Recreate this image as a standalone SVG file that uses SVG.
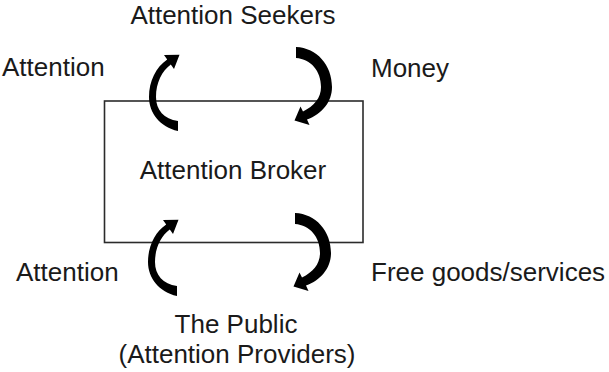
<svg xmlns="http://www.w3.org/2000/svg" xmlns:xlink="http://www.w3.org/1999/xlink" width="609" height="372" viewBox="0 0 609 372">
  <style>
    .lbl { font-family: "Liberation Sans", Arial, Helvetica, sans-serif; font-size: 26px; fill: #1a1a1a; }
    .mid { text-anchor: middle; }
    .box { fill: none; stroke: #2b2b2b; stroke-width: 1.6; }
    .arw { fill: #000; }
  </style>
  <defs>
    <!-- upward curved arrow, bulging to the left -->
    <path id="arrowUp" class="arw" d="M 178,131 C 160,127 149,113 149,97 C 149,81 156,67 167.2,59.4 L 164,55 L 179.5,54.8 L 174,69 L 170.8,64.6 C 162,71 156,83 156,97 C 156,110 164,119 178,121 Z"/>
    <!-- downward curved arrow, bulging to the right -->
    <path id="arrowDown" class="arw" d="M 296,47 C 317,48 332,65 332,87 C 332,102 322,114 307,119.6 L 309.5,125 L 294.5,120.5 L 300.5,106.5 L 303,111.5 C 314,106 321,98 321,87 C 321,71 311,59 296,58 Z"/>
  </defs>

  <g id="seekers">
    <text class="lbl mid" x="233" y="24">Attention Seekers</text>
  </g>

  <g id="broker">
    <rect class="box" x="104.5" y="101" width="258.5" height="141.5"/>
    <text class="lbl mid" x="233" y="179">Attention Broker</text>
  </g>

  <g id="public">
    <text class="lbl mid" x="236" y="333">The Public</text>
    <text class="lbl mid" x="237" y="363">(Attention Providers)</text>
  </g>

  <g id="connectors">
    <use xlink:href="#arrowUp"/>
    <use xlink:href="#arrowDown"/>
    <use xlink:href="#arrowUp" transform="translate(-1,165)"/>
    <use xlink:href="#arrowDown" transform="translate(-1,166)"/>
    <text class="lbl" x="2" y="76">Attention</text>
    <text class="lbl" x="371" y="77">Money</text>
    <text class="lbl" x="16" y="281">Attention</text>
    <text class="lbl" x="371" y="281">Free goods/services</text>
  </g>
</svg>
